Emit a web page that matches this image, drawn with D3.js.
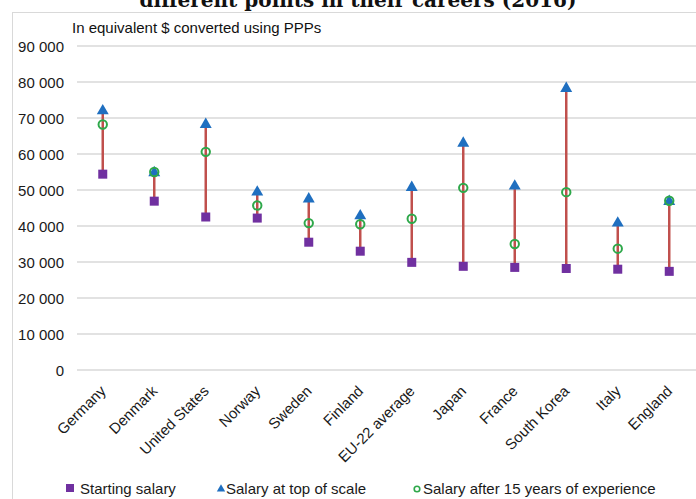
<!DOCTYPE html>
<html><head><meta charset="utf-8">
<script src="https://cdn.jsdelivr.net/npm/d3@7"></script>
<style>html,body{margin:0;padding:0;background:#fff;}svg{display:block;}</style>
</head><body>
<script>
const categories = ["Germany","Denmark","United States","Norway","Sweden","Finland","EU-22 average","Japan","France","South Korea","Italy","England"];
const startingSalary = [54400, 46900, 42500, 42200, 35500, 33000, 29900, 28800, 28500, 28200, 28000, 27400];
const topSalary      = [72000, 54800, 68200, 49400, 47500, 42800, 50700, 63000, 51100, 78200, 40800, 46800];
const salary15       = [68200, 55000, 60600, 45700, 40800, 40500, 42000, 50600, 35000, 49400, 33700, 47000];
const yTicks = [0,10000,20000,30000,40000,50000,60000,70000,80000,90000];
const titleText = "different points in their careers (2016)";
const subtitle = "In equivalent $ converted using PPPs";
const legendLabels = ["Starting salary","Salary at top of scale","Salary after 15 years of experience"];

const W = 696, H = 499;
const svg = d3.select("body").append("svg").attr("width", W).attr("height", H);
const font = "'Liberation Sans', Arial, sans-serif";
const cPurple = "#7030a0", cBlue = "#1f6fc0", cGreen = "#2ea84a", cRed = "#c0504d";

// frame
svg.append("line").attr("x1",12).attr("x2",W).attr("y1",12.5).attr("y2",12.5).attr("stroke","#d9d9d9").attr("stroke-width",1);
svg.append("line").attr("x1",12.5).attr("x2",12.5).attr("y1",12).attr("y2",H).attr("stroke","#d9d9d9").attr("stroke-width",1);

// title (cropped at the top, as in the source)
svg.append("text").attr("x",358).attr("y",7).attr("text-anchor","middle")
  .attr("font-family","'DejaVu Serif', 'Liberation Serif', serif").attr("font-weight","bold")
  .attr("font-size",20).attr("fill","#111").text(titleText);

const x = d3.scaleBand().domain(categories).range([77, 695]);
const y = d3.scaleLinear().domain([0, 90000]).range([370, 46]);

// y axis labels
const yAxis = d3.axisLeft(y).tickValues(yTicks).tickSize(0).tickPadding(0)
  .tickFormat(d => d3.format(",")(d).replace(/,/g, " "));
const gy = svg.append("g").attr("transform","translate(64,0)").call(yAxis);
gy.select(".domain").remove();
gy.selectAll("text").attr("font-family",font).attr("font-size",15).attr("fill","#1a1a1a").attr("dy","0.35em");

// grid
svg.append("g").selectAll("line").data(yTicks).join("line")
  .attr("x1",77).attr("x2",W).attr("y1",d=>y(d)).attr("y2",d=>y(d))
  .attr("stroke","#d9d9d9").attr("stroke-width",1.5);

// subtitle
svg.append("text").attr("x",72).attr("y",33).attr("font-family",font).attr("font-size",15).attr("fill","#111").text(subtitle);

// x labels
const cx = d => x(d) + x.bandwidth()/2;
const xAxis = d3.axisBottom(x).tickSize(0).tickPadding(0);
const gx = svg.append("g").attr("transform","translate(0,370)").call(xAxis);
gx.select(".domain").remove();
gx.selectAll("text").attr("font-family",font).attr("font-size",15).attr("fill","#1a1a1a")
  .attr("text-anchor","end").attr("dy",null).attr("y",0)
  .attr("transform","translate(4,22) rotate(-45)");

const data = categories.map((c,i)=>({c, s:startingSalary[i], t:topSalary[i], f:salary15[i]}));

// connecting lines
svg.append("g").selectAll("line").data(data).join("line")
  .attr("x1",d=>cx(d.c)).attr("x2",d=>cx(d.c))
  .attr("y1",d=>y(Math.min(d.s,d.t,d.f))).attr("y2",d=>y(Math.max(d.s,d.t,d.f)))
  .attr("stroke",cRed).attr("stroke-width",2.5);

// squares
svg.append("g").selectAll("rect").data(data).join("rect")
  .attr("x",d=>cx(d.c)-4.5).attr("y",d=>y(d.s)-4.5).attr("width",9).attr("height",9).attr("fill",cPurple);

// triangles
const tri = d3.symbol().type(d3.symbolTriangle).size(62);
svg.append("g").selectAll("path").data(data).join("path")
  .attr("d",tri).attr("transform",d=>`translate(${cx(d.c)},${y(d.t)})`).attr("fill",cBlue);

// circles
svg.append("g").selectAll("circle").data(data).join("circle")
  .attr("cx",d=>cx(d.c)).attr("cy",d=>y(d.f)).attr("r",4.2)
  .attr("fill","none").attr("stroke",cGreen).attr("stroke-width",2);

// legend
const lg = svg.append("g").attr("font-family",font).attr("font-size",15).attr("fill","#1a1a1a");
lg.append("rect").attr("x",66).attr("y",484).attr("width",8).attr("height",8).attr("fill",cPurple);
lg.append("text").attr("x",80).attr("y",494).text(legendLabels[0]);
lg.append("path").attr("d",d3.symbol().type(d3.symbolTriangle).size(30)).attr("transform","translate(221,489)").attr("fill",cBlue);
lg.append("text").attr("x",226).attr("y",494).text(legendLabels[1]);
lg.append("circle").attr("cx",417).attr("cy",489).attr("r",2.8).attr("fill","none").attr("stroke",cGreen).attr("stroke-width",1.6);
lg.append("text").attr("x",423).attr("y",494).text(legendLabels[2]);
</script>
</body></html>
